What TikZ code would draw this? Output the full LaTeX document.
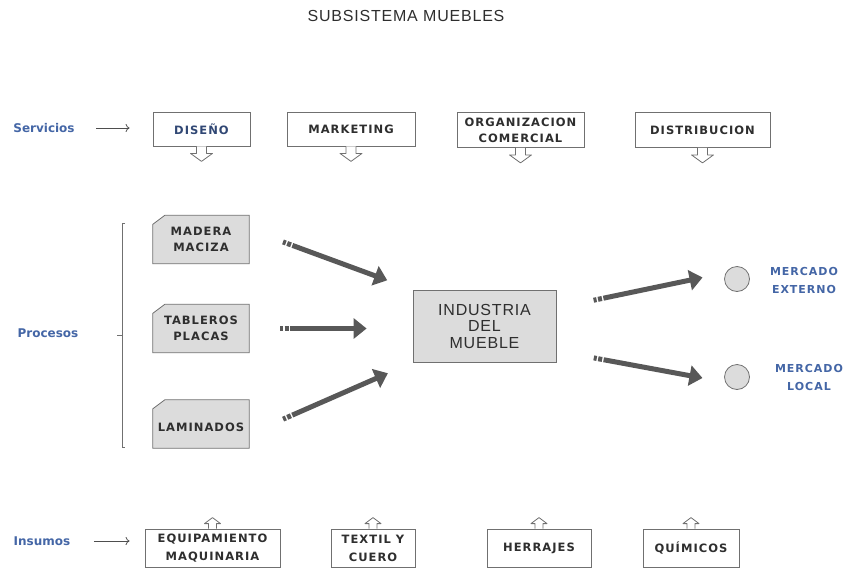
\documentclass[tikz,border=0pt]{standalone}
\usepackage{fontspec}
\setmainfont{DejaVu Sans}
\newfontfamily\boxfont[LetterSpace=9]{DejaVu Sans}
\newfontfamily\plainfont[LetterSpace=5]{Liberation Sans}
\usetikzlibrary{arrows.meta,backgrounds}
\definecolor{labelblue}{HTML}{4466A6}
\definecolor{boxtext}{HTML}{2E2E2E}
\definecolor{arrowgray}{HTML}{585858}
\definecolor{fillgray}{HTML}{DCDCDC}
\definecolor{linegray}{HTML}{707070}
\def\tabdown#1{\draw[tabarrow] ([xshift=-5pt]#1.south) -- ++(0,7) -- ++(-6,0) -- ++(11,8) -- ++(11,-8) -- ++(-6,0) -- ++(0,-7);}
\def\tabup#1{\draw[tabarrow] ([xshift=-4pt]#1.north) -- ++(0,-5) -- ++(-4,0) -- ++(8,-6) -- ++(8,6) -- ++(-4,0) -- ++(0,5);}
\def\cutbox#1{\begin{scope}[on background layer]
	\draw[linegray, line width=0.8pt, fill=fillgray] ([xshift=12pt]#1.north west) -- (#1.north east) -- (#1.south east) -- (#1.south west) -- ([yshift=-9pt]#1.north west) -- cycle;
	\end{scope}}
\tikzset{
	wbox/.style={draw=linegray, line width=0.8pt, fill=white, align=center, text=boxtext, inner sep=1pt,
		font=\boxfont\bfseries\fontsize{11.5}{16}\selectfont},
	pbox/.style={align=center, text=boxtext, minimum width=96pt, minimum height=48pt, inner sep=0pt,
		font=\boxfont\bfseries\fontsize{11.5}{16}\selectfont},
	sidelabel/.style={text=labelblue, font=\bfseries\fontsize{12}{14}\selectfont},
	mktlabel/.style={text=labelblue, align=center, font=\boxfont\bfseries\fontsize{11}{18}\selectfont},
	tabarrow/.style={draw=linegray, line width=0.8pt, fill=white, line join=round},
	thinarrow/.style={draw=linegray!70!black, line width=0.8pt, -{To[length=4pt,width=8pt]}},
	fatarrow/.style={draw=arrowgray, line width=5pt, -{Triangle[length=13pt,width=20pt]},
		dash pattern=on 3pt off 1.5pt on 4pt off 1.5pt on 500pt off 0pt}
}

\begin{document}
\begin{tikzpicture}[x=1pt, y=-1pt]
	\useasboundingbox (0, 0) rectangle (846, 568);
	%%%%% START %%%%%
	\node[text=boxtext, font=\plainfont\fontsize{16}{18}\selectfont] (title) at (406, 16) {SUBSISTEMA MUEBLES};
	
	% servicios
	\node[sidelabel] (serv) at (44, 128) {Servicios};
	\node[wbox, minimum width=97pt, minimum height=34pt, text=labelblue!70!black] (dis) at (201.5, 129) {DISEÑO};
	\node[wbox, minimum width=128pt, minimum height=34pt] (mkt) at (351, 129) {MARKETING};
	\node[wbox, minimum width=127pt, minimum height=35pt] (org) at (520.5, 130) {ORGANIZACION\\COMERCIAL};
	\node[wbox, minimum width=135pt, minimum height=35pt] (dst) at (702.5, 130) {DISTRIBUCION};
	\draw[thinarrow, shorten <=18pt, shorten >=23pt] (serv.east) -- (serv.east -| dis.west);
	\tabdown{dis}
	\tabdown{mkt}
	\tabdown{org}
	\tabdown{dst}
	
	% procesos
	\node[sidelabel] (proc) at (48, 333) {Procesos};
	\draw[linegray, line width=0.8pt] (125, 223) -- (122, 223) -- (122, 447) -- (125, 447);
	\draw[linegray, line width=0.8pt] (122, 335) -- (117, 335);
	\node[pbox] (mad) at (201, 239.5) {MADERA\\MACIZA};
	\node[pbox] (tab) at (201, 328.5) {TABLEROS\\PLACAS};
	\node[pbox] (lam) at (201, 424) {\\LAMINADOS};
	\cutbox{mad}
	\cutbox{tab}
	\cutbox{lam}
	\node[draw=linegray, line width=0.8pt, fill=fillgray, minimum width=143pt, minimum height=72pt,
		align=center, text=boxtext, font=\plainfont\fontsize{16}{16.5}\selectfont] (ind) at (484.5, 326) {INDUSTRIA\\DEL\\MUEBLE};
	\draw[fatarrow, shorten <=36pt, shorten >=27pt] ([yshift=10pt]mad.east) -- (ind.north west);
	\draw[fatarrow, shorten <=31pt, shorten >=46pt] (tab.east) -- (tab.east -| ind.west);
	\draw[fatarrow, shorten <=37pt, shorten >=27pt] ([yshift=-10pt]lam.east) -- (ind.south west);
	
	% mercados
	\node[circle, draw=linegray, line width=0.8pt, fill=fillgray, minimum size=25pt, inner sep=0pt] (ext) at (737, 279) {};
	\node[circle, draw=linegray, line width=0.8pt, fill=fillgray, minimum size=25pt, inner sep=0pt] (loc) at (737, 377) {};
	\node[mktlabel] (extlbl) at (804, 280) {MERCADO\\EXTERNO};
	\node[mktlabel] (loclbl) at (809, 377) {MERCADO\\LOCAL};
	\draw[fatarrow, shorten <=38pt, shorten >=22pt] ([yshift=18pt]ind.east) -- ([yshift=6pt]ext.west);
	\draw[fatarrow, shorten <=38pt, shorten >=22pt] ([yshift=-25pt]ind.east) -- ([yshift=-5pt]loc.west);
	
	% insumos
	\node[sidelabel] (ins) at (42, 541) {Insumos};
	\node[wbox, minimum width=135pt, minimum height=38pt, font=\boxfont\bfseries\fontsize{11.5}{18}\selectfont] (equ) at (212.5, 548) {EQUIPAMIENTO\\MAQUINARIA};
	\node[wbox, minimum width=84pt, minimum height=38pt, font=\boxfont\bfseries\fontsize{11.5}{18}\selectfont] (tex) at (373, 548) {TEXTIL Y\\CUERO};
	\node[wbox, minimum width=104pt, minimum height=38pt] (her) at (539, 548) {HERRAJES};
	\node[wbox, minimum width=96pt, minimum height=38pt] (qui) at (691, 548) {QUÍMICOS};
	\draw[thinarrow, shorten <=20pt, shorten >=15pt] (ins.east) -- (ins.east -| equ.west);
	\tabup{equ}
	\tabup{tex}
	\tabup{her}
	\tabup{qui}
	%%%%% END %%%%%
\end{tikzpicture}
\end{document}
